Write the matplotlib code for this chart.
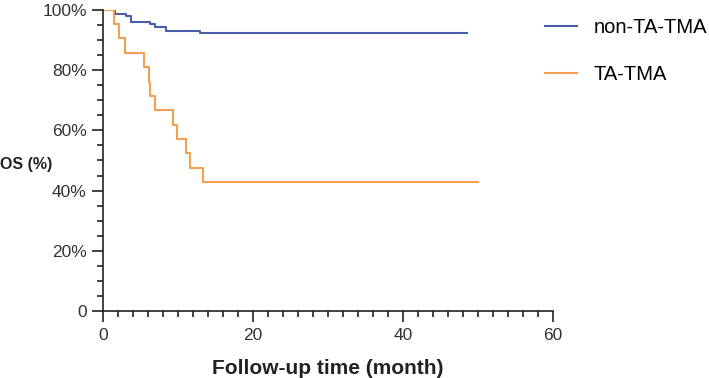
import matplotlib
matplotlib.use("Agg")
import matplotlib.pyplot as plt
from matplotlib.ticker import MultipleLocator, FuncFormatter

# Kaplan-Meier steps (time in months, survival in %)
non_tma_time = [0, 1.6, 3.1, 3.8, 6.3, 6.9, 8.4, 13.0, 48.5]
non_tma_surv = [100, 98.7, 98.0, 95.9, 95.2, 94.4, 93.1, 92.2, 92.2]

tma_time = [0, 1.5, 2.1, 3.0, 5.5, 6.1, 6.3, 6.9, 9.3, 9.9, 11.1, 11.6, 13.4, 50.0]
tma_surv = [100, 95.2, 90.5, 85.7, 81.0, 76.2, 71.4, 66.7, 61.9, 57.1, 52.4, 47.6, 42.9, 42.9]

labels = ["non-TA-TMA", "TA-TMA"]
colors = ["#4a5da8", "#f2a052"]

plt.rcParams["font.family"] = ["Liberation Sans", "DejaVu Sans"]

fig = plt.figure(figsize=(7.09, 3.78), dpi=100)
ax = fig.add_axes([0.145, 0.177, 0.635, 0.797])

ax.step(non_tma_time, non_tma_surv, where="post", color=colors[0], lw=1.5, label=labels[0])
ax.step(tma_time, tma_surv, where="post", color=colors[1], lw=1.5, label=labels[1])

ax.set_xlim(0, 60)
ax.set_ylim(0, 100)
ax.xaxis.set_major_locator(MultipleLocator(20))
ax.xaxis.set_minor_locator(MultipleLocator(2))
ax.yaxis.set_major_locator(MultipleLocator(20))
ax.yaxis.set_minor_locator(MultipleLocator(5))
ax.yaxis.set_major_formatter(FuncFormatter(lambda v, p: "0" if v == 0 else "%d%%" % v))

for s in ["top", "right"]:
    ax.spines[s].set_visible(False)
for s in ["left", "bottom"]:
    ax.spines[s].set_linewidth(1.2)
    ax.spines[s].set_color("#222222")

ax.tick_params(which="major", length=8, width=1.2, color="#222222", labelsize=12.5, colors="#333333")
ax.tick_params(which="minor", length=4.5, width=1.2, color="#222222")
ax.tick_params(axis="x", pad=4)

ax.set_xlabel("Follow-up time (month)", fontsize=15, fontweight="bold", color="#222222", labelpad=12)
fig.text(0.0, 0.565, "OS (%)", fontsize=11.5, fontweight="bold", color="#222222", ha="left", va="center")

ax.legend(loc="upper left", bbox_to_anchor=(0.768, 0.953), bbox_transform=fig.transFigure,
          frameon=False, fontsize=14.5, handlelength=1.6, handletextpad=0.85,
          labelspacing=1.4, borderpad=0, borderaxespad=0)

fig.savefig("out.png", dpi=100)
